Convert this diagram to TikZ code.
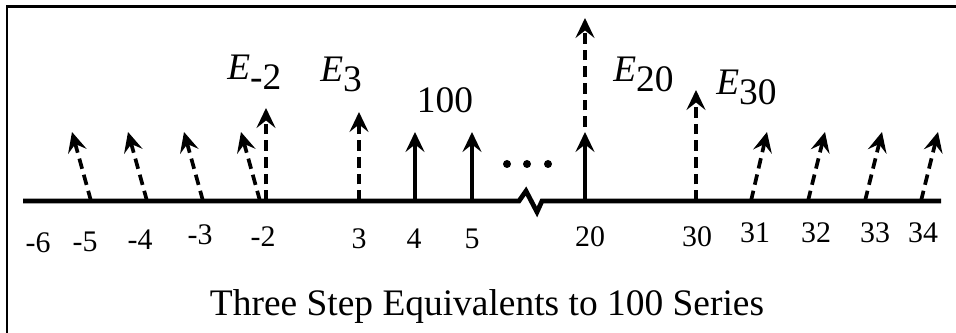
\documentclass[tikz,border=0pt]{standalone}
\usepackage{fontspec}
\setmainfont{Liberation Serif}
\usetikzlibrary{arrows.meta}

\tikzset{
  numlab/.style={font=\fontsize{17}{19}\selectfont, inner sep=0pt},
  elab/.style={font=\fontsize{21.3}{25}\selectfont, inner sep=0pt, anchor=base west},
  sarrow/.style={line width=2.1pt, -{Stealth[length=4mm,width=3.8mm,inset=1.5mm]}},
  darrow/.style={sarrow, dash pattern=on 6pt off 3.5pt},
  axisline/.style={line width=2.7pt},
}
\newcommand{\Esub}[1]{\textit{E}\raisebox{-0.2cm}{#1}}

\begin{document}
\begin{tikzpicture}[x=0.2mm,y=0.2mm]
\useasboundingbox (0,-132) rectangle (956,201);
% frame
\draw [line width=1.7pt] (7,-132) |- (956,194);
% axis with break
\coordinate (a0) at (23,0);
\coordinate (z1) at (519,0);
\coordinate (z2) at (526,10);
\coordinate (z3) at (537,-11);
\coordinate (z4) at (542,0);
\coordinate (a1) at (941,0);
\draw [axisline] (a0) -- (z1) -- (z2) -- (z3) -- (z4) -- (a1);
% dots
\fill (507,37) circle (0.8mm);
\fill (527,37) circle (0.8mm);
\fill (548,37) circle (0.8mm);
% left tilted arrows
\coordinate (b-5) at (91,0);  \coordinate (t-5) at (72,69);
\coordinate (b-4) at (147,0); \coordinate (t-4) at (128,69);
\coordinate (b-3) at (203,0); \coordinate (t-3) at (184,69);
\coordinate (b-2) at (260,0); \coordinate (t-2) at (241,69);
\draw [darrow] (b-5) -- (t-5);
\draw [darrow] (b-4) -- (t-4);
\draw [darrow] (b-3) -- (t-3);
\draw [darrow] (b-2) -- (t-2);
% equivalents
\coordinate (bE-2) at (266,0); \coordinate (tE-2) at (266,93);
\coordinate (bE3) at (359,0);  \coordinate (tE3) at (359,89);
\coordinate (bE30) at (696,0); \coordinate (tE30) at (696,111);
\draw [darrow] (bE-2) -- (tE-2);
\draw [darrow] (bE3) -- (tE3);
\draw [darrow] (bE30) -- (tE30);
% series 100
\coordinate (b4) at (415,0);  \coordinate (t4) at (415,69);
\coordinate (b5) at (472,0);  \coordinate (t5) at (472,69);
\coordinate (b20) at (585,0); \coordinate (t20) at (585,69);
\draw [sarrow] (b4) -- (t4);
\draw [sarrow] (b5) -- (t5);
\draw [sarrow] (b20) -- (t20);
\coordinate (bE20) at (585,74); \coordinate (tE20) at (585,183);
\draw [darrow] (bE20) -- (tE20);
% right tilted arrows
\coordinate (b31) at (751,0); \coordinate (t31) at (767,69);
\coordinate (b32) at (808,0); \coordinate (t32) at (825,69);
\coordinate (b33) at (865,0); \coordinate (t33) at (882,69);
\coordinate (b34) at (921,0); \coordinate (t34) at (938,69);
\draw [darrow] (b31) -- (t31);
\draw [darrow] (b32) -- (t32);
\draw [darrow] (b33) -- (t33);
\draw [darrow] (b34) -- (t34);
% axis numbers
\node [numlab] (n-6) at (38,-42)  {-6};
\node [numlab] (n-5) at (85,-41)  {-5};
\node [numlab] (n-4) at (140,-39) {-4};
\node [numlab] (n-3) at (200,-34) {-3};
\node [numlab] (n-2) at (263,-36) {-2};
\node [numlab] (n3)  at (359,-38) {3};
\node [numlab] (n4)  at (414,-38) {4};
\node [numlab] (n5)  at (472,-38) {5};
\node [numlab] (n20) at (590,-36) {20};
\node [numlab] (n30) at (697,-36) {30};
\node [numlab] (n31) at (755,-32) {31};
\node [numlab] (n32) at (816,-32) {32};
\node [numlab] (n33) at (875,-32) {33};
\node [numlab] (n34) at (923,-32) {34};
% labels
\node [elab] (lE-2) at (227,121) {\Esub{-2}};
\node [elab] (lE3)  at (320,119) {\Esub{3}};
\node [elab] (lE20) at (613,119) {\Esub{20}};
\node [elab] (lE30) at (716,106) {\Esub{30}};
\node [elab, anchor=base] (l100) at (445,88) {100};
\node [elab, anchor=base] (title) at (487,-115) {Three Step Equivalents to 100 Series};
\end{tikzpicture}
\end{document}
